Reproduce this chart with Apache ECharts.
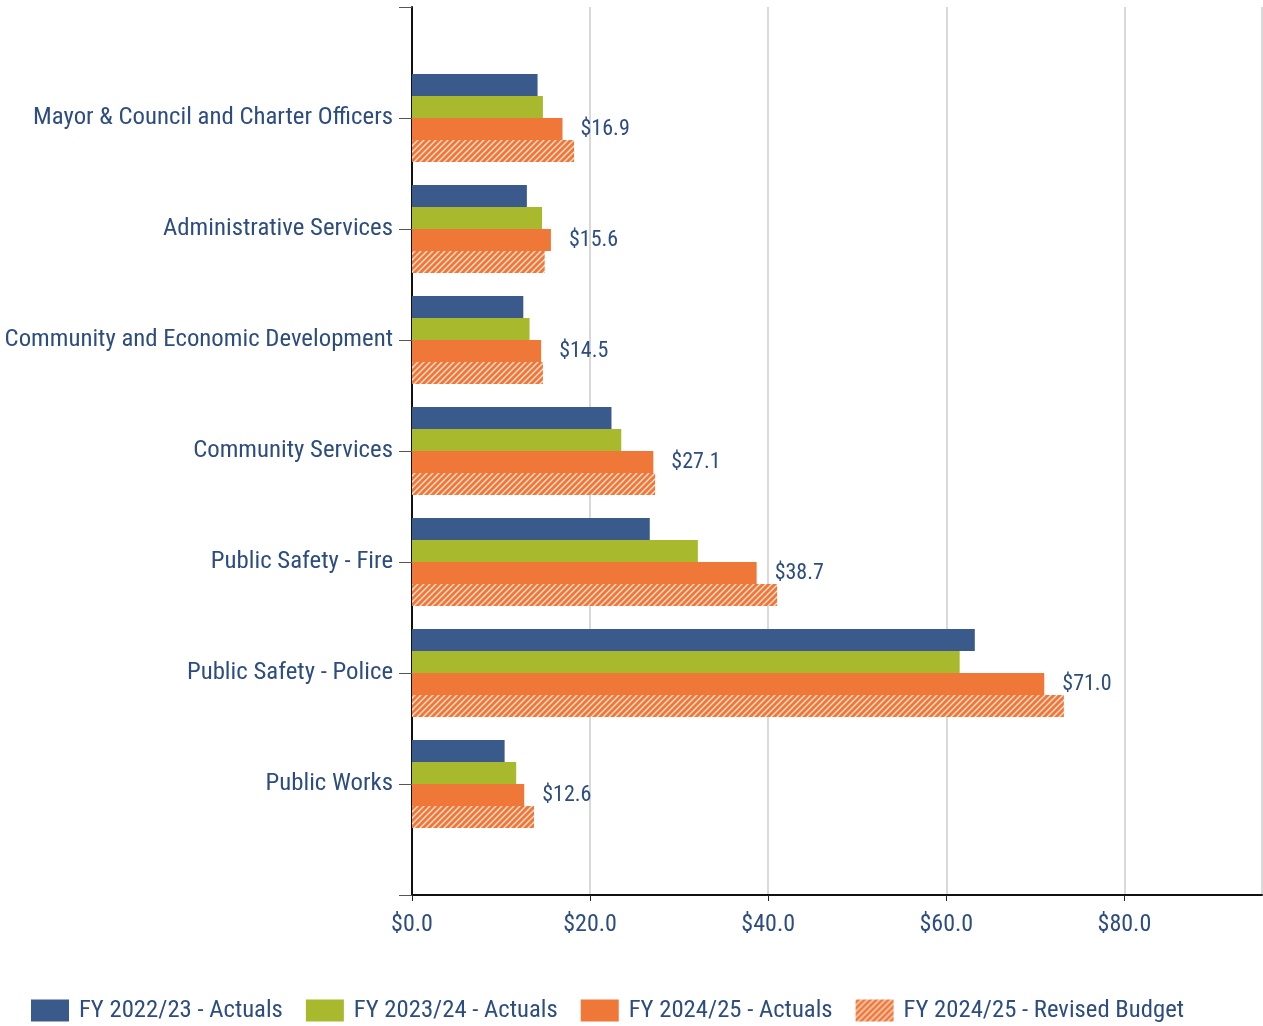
<!DOCTYPE html>
<html>
<head>
<meta charset="utf-8">
<script src="https://cdn.jsdelivr.net/npm/echarts@6/dist/echarts.min.js"></script>
<style>
html,body{margin:0;padding:0;background:#fff;}
#chart{width:1263px;height:1026px;}
</style>
</head>
<body>
<div id="chart"></div>
<script>
const categories = ['', 'Mayor & Council and Charter Officers', 'Administrative Services', 'Community and Economic Development', 'Community Services', 'Public Safety - Fire', 'Public Safety - Police', 'Public Works', ''];
const seriesNames = ['FY 2022/23 - Actuals', 'FY 2023/24 - Actuals', 'FY 2024/25 - Actuals', 'FY 2024/25 - Revised Budget'];
const fy2223 = [null, 14.1, 12.9, 12.5, 22.4, 26.7, 63.2, 10.4, null];
const fy2324 = [null, 14.7, 14.6, 13.2, 23.5, 32.1, 61.5, 11.7, null];
const fy2425 = [null, 16.9, 15.6, 14.5, 27.1, 38.7, 71.0, 12.6, null];
const fy2425Budget = [null, 18.2, 14.9, 14.7, 27.3, 41.0, 73.2, 13.7, null];
const xTicks = [0, 20, 40, 60, 80];

const FONT = "'Roboto Condensed', 'Liberation Sans Narrow', 'DejaVu Sans Condensed', Roboto, sans-serif";
const TEXT = '#2d4d80';
const BLUE = '#3a5a8c', GREEN = '#a8b92e', ORANGE = '#ef7738';

function hatch() {
  const c = document.createElement('canvas');
  c.width = 6; c.height = 6;
  const g = c.getContext('2d');
  g.fillStyle = ORANGE;
  g.fillRect(0, 0, 6, 6);
  g.strokeStyle = 'rgba(255,255,255,0.8)';
  g.lineWidth = 1.3;
  g.beginPath();
  g.moveTo(0, 6); g.lineTo(6, 0);
  g.moveTo(-3, 3); g.lineTo(3, -3);
  g.moveTo(3, 9); g.lineTo(9, 3);
  g.stroke();
  return { image: c, repeat: 'repeat' };
}

const chart = echarts.init(document.getElementById('chart'));
const colors = [BLUE, GREEN, ORANGE, hatch()];
const datas = [fy2223, fy2324, fy2425, fy2425Budget];

chart.setOption({
  animation: false,
  textStyle: { fontFamily: FONT },
  grid: { left: 412, right: 1, top: 7, bottom: 131, containLabel: false },
  legend: {
    left: 31, top: 998, padding: 0,
    itemWidth: 38, itemHeight: 22, itemGap: 23,
    icon: 'rect',
    textStyle: { fontFamily: FONT, fontSize: 24.7, color: TEXT, padding: [0, 0, 0, 5] },
    data: seriesNames
  },
  xAxis: {
    type: 'value', min: 0, max: 95.45, interval: 20,
    axisLine: { show: true, lineStyle: { color: '#111', width: 2 } },
    axisTick: { show: true, length: 6, lineStyle: { color: '#222', width: 1 } },
    splitLine: { show: true, lineStyle: { color: '#d9d9d9', width: 2 } },
    axisLabel: {
      margin: 18, fontSize: 24, color: TEXT, fontFamily: FONT, showMaxLabel: false,
      formatter: v => xTicks.indexOf(v) >= 0 ? '$' + v.toFixed(1) : ''
    }
  },
  yAxis: {
    type: 'category', data: categories, inverse: true, boundaryGap: false,
    axisLine: { show: true, lineStyle: { color: '#111', width: 2 } },
    axisTick: { show: true, length: 13, lineStyle: { color: '#555', width: 1 } },
    splitLine: { show: false },
    axisLabel: { margin: 19, fontSize: 24.8, color: TEXT, fontFamily: FONT, interval: 0 }
  },
  series: seriesNames.map((n, i) => ({
    name: n, type: 'bar', data: datas[i], barWidth: 22, barGap: '0%',
    itemStyle: { color: colors[i] },
    label: i === 2 ? {
      show: true, position: 'right', distance: 18, fontSize: 22, color: TEXT, fontFamily: FONT,
      formatter: p => '$' + p.value.toFixed(1)
    } : { show: false }
  }))
});
</script>
</body>
</html>
